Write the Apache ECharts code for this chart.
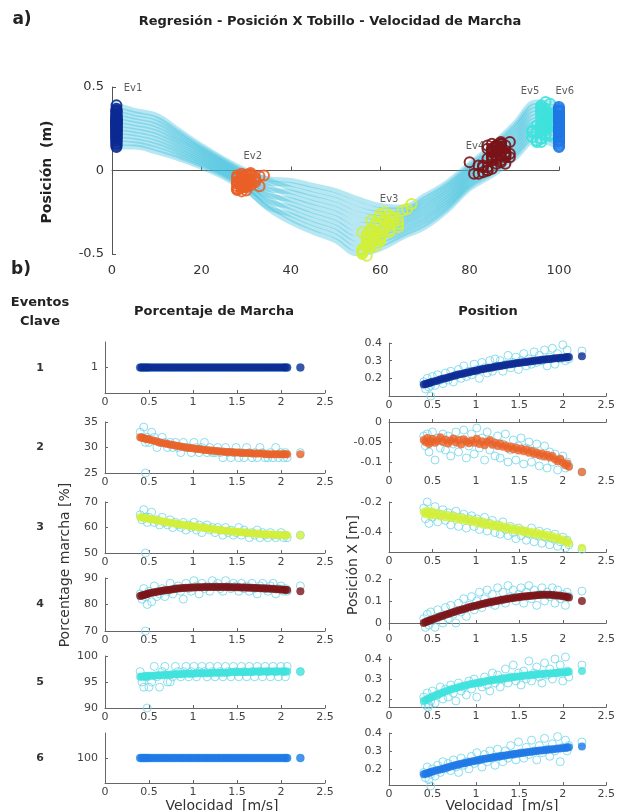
<!DOCTYPE html>
<html><head><meta charset="utf-8">
<script src="https://cdn.jsdelivr.net/npm/echarts@6/dist/echarts.min.js"></script>
<style>html,body{margin:0;padding:0;background:#fff}#c{width:618px;height:811px}</style>
</head><body><div id="c"></div>
<script>
// ---------- DATA ----------
const cyclePct = [0,5,10,15,20,25,30,35,40,45,50,55,60,65,70,75,80,85,90,95,100];
const cycleCurves = [
 [.40,.36,.33,.24,.15,.07,.00,-.058,-.105,-.141,-.175,-.23,-.257,-.253,-.185,-.101,.013,.117,.242,.368,.353],
 [.376,.34,.31,.225,.138,.06,-.011,-.049,-.06,-.09,-.12,-.17,-.21,-.22,-.15,-.07,.04,.15,.28,.41,.40],
 [.353,.32,.29,.209,.126,.05,-.022,-.095,-.151,-.192,-.229,-.29,-.305,-.286,-.219,-.132,-.015,.084,.204,.326,.305],
 [.329,.30,.27,.194,.115,.04,-.033,-.076,-.083,-.115,-.147,-.20,-.234,-.236,-.167,-.085,.026,.134,.261,.389,.376],
 [.305,.28,.25,.178,.103,.03,-.044,-.131,-.196,-.243,-.284,-.35,-.352,-.318,-.254,-.163,-.042,.052,.166,.285,.258],
 [.282,.26,.23,.163,.091,.02,-.055,-.113,-.128,-.166,-.202,-.26,-.281,-.269,-.202,-.116,-.001,.101,.223,.347,.329],
 [.258,.24,.21,.147,.079,.01,-.065,-.167,-.242,-.294,-.338,-.41,-.399,-.351,-.288,-.194,-.069,.019,.127,.243,.211],
 [.235,.22,.19,.132,.067,.00,-.076,-.149,-.174,-.217,-.256,-.32,-.328,-.302,-.236,-.147,-.028,.068,.184,.305,.282],
 [.211,.20,.17,.116,.055,-.01,-.087,-.204,-.287,-.345,-.393,-.47,-.446,-.384,-.323,-.225,-.096,-.014,.089,.201,.164],
 [.187,.18,.15,.101,.044,-.02,-.098,-.185,-.219,-.268,-.311,-.38,-.375,-.334,-.271,-.178,-.055,.036,.146,.264,.235],
 [.164,.16,.13,.085,.032,-.03,-.109,-.231,-.31,-.37,-.42,-.50,-.47,-.40,-.34,-.24,-.11,-.03,.07,.18,.14],
 [.14,.14,.11,.07,.02,-.04,-.12,-.222,-.265,-.319,-.365,-.44,-.423,-.367,-.305,-.209,-.083,.003,.108,.222,.187]
];
const eventNames = ['Ev1','Ev2','Ev3','Ev4','Ev5','Ev6'];
const rowLabels = ['1','2','3','4','5','6'];
const speed = [0.40,0.42,0.44,0.46,0.48,0.50,0.53,0.56,0.59,0.62,0.65,0.68,0.71,0.74,0.77,0.80,0.83,0.86,0.89,0.92,
 0.95,0.98,1.01,1.04,1.07,1.10,1.13,1.16,1.19,1.22,1.25,1.28,1.31,1.34,1.37,1.40,1.43,1.46,1.49,1.52,
 1.55,1.58,1.61,1.64,1.67,1.70,1.73,1.76,1.79,1.82,1.85,1.88,1.91,1.94,1.97,2.00,2.03,2.05,2.07,2.22];

// gait percentage of each key event (fit / observed)
const pct1Fit = [1,1,1,1,1,1,1,1,1,1,1,1,1,1,1,1,1,1,1,1,1,1,1,1,1,1,1,1,1,1,1,1,1,1,1,1,1,1,1,1,1,1,1,1,1,1,1,1,1,1,1,1,1,1,1,1,1,1,1,1];
const pct1Obs = [1,1,1,1,1,1,1,1,1,1,1,1,1,1,1,1,1,1,1,1,1,1,1,1,1,1,1,1,1,1,1,1,1,1,1,1,1,1,1,1,1,1,1,1,1,1,1,1,1,1,1,1,1,1,1,1,1,1,1,1];
const pct2Fit = [32.0,31.9,31.8,31.7,31.6,31.6,31.4,31.3,31.2,31.0,30.9,30.8,30.7,30.6,30.5,30.4,30.3,30.2,30.1,30.0,
 29.9,29.9,29.8,29.7,29.7,29.6,29.5,29.5,29.4,29.4,29.3,29.3,29.2,29.2,29.1,29.1,29.1,29.0,29.0,29.0,
 28.9,28.9,28.9,28.9,28.8,28.8,28.8,28.8,28.8,28.7,28.7,28.7,28.7,28.7,28.7,28.7,28.7,28.7,28.7,28.7];
const pct2Obs = [33,32,34,31,32,31,33,32,30,31,32,31,30,31,30,31,30,29,31,30,30,29,31,30,29,30,31,29,30,29,
 29,30,29,28,30,29,28,29,30,28,29,28,30,29,28,29,28,30,29,28,28,29,28,30,28,29,28,29,28,29];
const pct3Fit = [64.0,63.9,63.8,63.6,63.5,63.4,63.2,63.0,62.8,62.6,62.4,62.3,62.1,61.9,61.7,61.6,61.4,61.2,61.0,60.9,
 60.7,60.6,60.4,60.3,60.1,60.0,59.8,59.7,59.5,59.4,59.2,59.1,59.0,58.8,58.7,58.6,58.5,58.4,58.3,58.2,
 58.1,58.0,57.9,57.8,57.7,57.6,57.6,57.5,57.4,57.4,57.3,57.3,57.2,57.2,57.1,57.1,57.0,57.0,57.0,57.0];
const pct3Obs = [65,63,67,64,62,64,66,62,63,61,64,62,61,63,60,62,61,60,62,59,61,60,62,59,61,58,60,61,59,60,
 58,60,59,57,60,58,59,57,58,60,57,59,58,56,58,57,59,56,58,57,56,58,57,56,57,58,56,57,56,57];
const pct4Fit = [83.2,83.4,83.6,83.8,84.0,84.2,84.4,84.6,84.8,85.0,85.2,85.4,85.5,85.6,85.8,85.9,86.0,86.1,86.2,86.3,
 86.3,86.4,86.4,86.5,86.5,86.5,86.6,86.6,86.6,86.6,86.6,86.6,86.6,86.6,86.6,86.6,86.5,86.5,86.5,86.5,
 86.4,86.4,86.4,86.3,86.3,86.2,86.2,86.1,86.1,86.0,86.0,85.9,85.9,85.8,85.8,85.7,85.6,85.6,85.5,85.0];
const pct4Obs = [84,82,86,83,80,85,81,87,83,84,86,83,85,88,84,86,87,85,82,88,86,85,89,87,84,88,86,87,85,89,
 87,88,86,85,89,87,86,88,87,85,88,86,87,85,88,86,84,87,88,86,85,87,88,84,86,87,85,86,85,87];
const pct5Fit = [96.0,96.0,96.1,96.1,96.1,96.2,96.2,96.2,96.3,96.3,96.3,96.4,96.4,96.4,96.5,96.5,96.5,96.5,96.6,96.6,
 96.6,96.6,96.6,96.7,96.7,96.7,96.7,96.7,96.7,96.8,96.8,96.8,96.8,96.8,96.8,96.8,96.9,96.9,96.9,96.9,
 96.9,96.9,96.9,96.9,96.9,97.0,97.0,97.0,97.0,97.0,97.0,97.0,97.0,97.0,97.0,97.0,97.0,97.0,97.0,97.0];
const pct5Obs = [97,95,94,96,96,94,95,98,96,94,97,98,95,95,96,98,97,96,97,98,96,97,98,96,97,98,97,96,98,97,
 96,98,97,96,98,97,96,98,97,96,98,97,96,98,97,96,98,97,96,98,97,96,98,97,96,98,97,96,98,97];
const pct6Fit = [100,100,100,100,100,100,100,100,100,100,100,100,100,100,100,100,100,100,100,100,100,100,100,100,100,100,100,100,100,100,
 100,100,100,100,100,100,100,100,100,100,100,100,100,100,100,100,100,100,100,100,100,100,100,100,100,100,100,100,100,100];
const pct6Obs = [100,100,100,100,100,100,100,100,100,100,100,100,100,100,100,100,100,100,100,100,100,100,100,100,100,100,100,100,100,100,
 100,100,100,100,100,100,100,100,100,100,100,100,100,100,100,100,100,100,100,100,100,100,100,100,100,100,100,100,100,100];

// ankle X position at each key event (fit / observed)
const pos1Fit = [.165,.168,.171,.174,.177,.180,.184,.188,.193,.197,.201,.205,.209,.213,.217,.221,.224,.228,.231,.235,
 .238,.241,.245,.248,.251,.254,.257,.260,.262,.265,.268,.270,.273,.275,.278,.280,.283,.285,.287,.289,
 .291,.293,.295,.297,.299,.301,.303,.305,.306,.308,.310,.311,.313,.314,.316,.317,.319,.320,.321,.325];
const pos1Obs = [.18,.14,.20,.15,.16,.21,.16,.22,.19,.17,.23,.19,.24,.18,.22,.25,.20,.27,.21,.24,
 .22,.28,.25,.20,.29,.26,.23,.30,.24,.31,.27,.30,.24,.28,.33,.26,.29,.32,.25,.30,
 .34,.27,.31,.28,.35,.29,.33,.30,.36,.27,.32,.37,.28,.34,.31,.39,.30,.36,.31,.355];
const pos2Fit = [-.045,-.050,-.040,-.055,-.048,-.042,-.052,-.046,-.038,-.050,-.044,-.054,-.047,-.041,-.051,-.045,-.056,-.043,-.049,-.053,
 -.046,-.052,-.042,-.055,-.048,-.058,-.050,-.045,-.057,-.052,-.060,-.054,-.062,-.058,-.066,-.061,-.068,-.064,-.071,-.066,
 -.073,-.069,-.077,-.072,-.080,-.076,-.083,-.079,-.086,-.082,-.089,-.085,-.093,-.098,-.092,-.102,-.108,-.104,-.112,-.125];
const pos2Obs = [-.035,-.060,-.030,-.075,-.050,-.025,-.095,-.040,-.065,-.030,-.070,-.035,-.085,-.055,-.025,-.075,-.045,-.020,-.090,-.060,
 -.030,-.080,-.015,-.065,-.040,-.095,-.025,-.070,-.050,-.085,-.035,-.090,-.055,-.030,-.100,-.070,-.045,-.095,-.060,-.040,
 -.105,-.065,-.050,-.100,-.075,-.055,-.110,-.085,-.060,-.115,-.075,-.100,-.080,-.120,-.095,-.085,-.115,-.100,-.110,-.125];
const pos3Fit = [-.265,-.280,-.258,-.275,-.290,-.262,-.285,-.272,-.295,-.280,-.300,-.285,-.305,-.292,-.310,-.298,-.318,-.305,-.322,-.312,
 -.330,-.318,-.338,-.325,-.345,-.333,-.352,-.340,-.358,-.347,-.365,-.352,-.372,-.360,-.380,-.368,-.385,-.375,-.392,-.380,
 -.398,-.388,-.405,-.395,-.412,-.400,-.418,-.408,-.425,-.415,-.432,-.422,-.440,-.430,-.450,-.445,-.462,-.455,-.470,-.500];
const pos3Obs = [-.24,-.31,-.20,-.34,-.27,-.30,-.23,-.33,-.28,-.25,-.32,-.27,-.35,-.29,-.26,-.36,-.30,-.28,-.37,-.31,
 -.29,-.36,-.31,-.38,-.33,-.30,-.39,-.34,-.32,-.40,-.35,-.41,-.33,-.38,-.42,-.36,-.40,-.44,-.37,-.42,
 -.39,-.45,-.41,-.37,-.46,-.42,-.39,-.47,-.43,-.40,-.48,-.44,-.41,-.49,-.46,-.43,-.50,-.45,-.48,-.51];
const pos4Fit = [.000,.004,.007,.010,.013,.016,.020,.025,.029,.033,.037,.041,.045,.049,.053,.057,.060,.064,.067,.071,
 .074,.077,.080,.083,.086,.089,.092,.094,.097,.099,.101,.104,.106,.108,.110,.112,.114,.116,.117,.119,
 .120,.122,.123,.124,.125,.126,.127,.128,.128,.128,.128,.127,.126,.125,.124,.122,.120,.118,.116,.100];
const pos4Obs = [.02,-.02,.04,-.01,.05,.01,-.02,.06,.03,.00,.07,.02,.08,.04,.00,.09,.05,.11,.03,.08,
 .12,.06,.10,.14,.07,.11,.15,.09,.13,.08,.16,.10,.14,.09,.17,.12,.15,.10,.13,.16,
 .09,.14,.17,.11,.15,.08,.13,.16,.10,.14,.12,.16,.09,.15,.11,.13,.08,.14,.12,.145];
const pos5Fit = [.190,.195,.199,.203,.207,.211,.217,.222,.228,.233,.238,.243,.247,.251,.255,.259,.263,.266,.269,.272,
 .275,.278,.280,.283,.285,.288,.290,.292,.294,.296,.298,.300,.302,.304,.306,.308,.309,.311,.313,.314,
 .316,.317,.319,.320,.321,.323,.324,.325,.326,.327,.328,.329,.330,.331,.332,.333,.334,.335,.336,.340];
const pos5Obs = [.21,.17,.23,.17,.19,.24,.18,.22,.26,.20,.25,.21,.27,.23,.19,.28,.24,.26,.22,.29,
 .25,.30,.21,.28,.26,.31,.27,.24,.33,.28,.32,.26,.30,.35,.28,.31,.37,.29,.33,.27,
 .34,.30,.39,.29,.33,.36,.31,.28,.38,.32,.35,.30,.40,.33,.37,.29,.41,.34,.31,.37];
const pos6Fit = [.170,.173,.176,.179,.182,.185,.189,.193,.197,.201,.205,.209,.213,.217,.221,.224,.228,.231,.234,.238,
 .241,.244,.247,.250,.253,.256,.258,.261,.263,.266,.268,.271,.273,.275,.277,.280,.282,.284,.286,.288,
 .290,.292,.294,.296,.298,.300,.302,.303,.305,.307,.308,.310,.311,.313,.314,.316,.317,.319,.320,.325];
const pos6Obs = [.18,.15,.21,.14,.17,.20,.16,.22,.18,.24,.20,.23,.19,.25,.21,.18,.26,.22,.24,.20,
 .27,.23,.29,.25,.21,.28,.24,.30,.26,.22,.31,.27,.24,.30,.26,.33,.28,.25,.35,.29,
 .26,.32,.28,.36,.30,.25,.33,.29,.37,.31,.27,.34,.30,.38,.24,.32,.36,.30,.33,.35];
// isolated observations at the lower edge of some panels [speed, value]
const outlierPct = [null,[0.46,25],[0.46,50],[0.46,70],[0.48,90],null];
const outlierPos = [[0.48,0.10],null,null,null,[0.45,0.16],[0.48,0.105]];

// y-axis ranges and tick labels
const pctRange = [[0,2],[25,35],[50,70],[70,90],[90,100],[99,101]];
const pctTicks = [[1],[25,30,35],[50,60,70],[70,80,90],[90,95,100],[100]];
const posRange = [[0.1,0.4],[-0.125,0],[-0.527,-0.2],[-0.032,0.2],[0.16,0.41],[0.11,0.4]];
const posTicks = [[0.2,0.3,0.4],[-0.1,-0.05,0],[-0.4,-0.2],[0,0.1,0.2],[0.2,0.3,0.4],[0.2,0.3,0.4]];
const speedTicks = [0,0.5,1,1.5,2,2.5];

// ---------- STYLE ----------
const evColors = ['#0c2a92','#ea6128','#d2ef3a','#7a1418','#3fe2dc','#1f78e6'];
const obsColor = '#6dd6ea';
const curveColor = '#34bcdc';
const FONT = 'DejaVu Sans';

const pctFit = [pct1Fit,pct2Fit,pct3Fit,pct4Fit,pct5Fit,pct6Fit];
const pctObs = [pct1Obs,pct2Obs,pct3Obs,pct4Obs,pct5Obs,pct6Obs];
const posFit = [pos1Fit,pos2Fit,pos3Fit,pos4Fit,pos5Fit,pos6Fit];
const posObs = [pos1Obs,pos2Obs,pos3Obs,pos4Obs,pos5Obs,pos6Obs];

const leftTops = [342,422,502,578,656,733];
const leftH = [51,51,51,53,52,50];
const rightTops = [343,422,502,579,657,733];
const rightH = [53,50,50,51,50,52];

const grids = [{left:112, width:447, top:87, height:167}];
const xAxes = [{gridIndex:0, type:'value', min:0, max:100, interval:20,
  axisLine:{lineStyle:{color:'#555'}}, axisTick:{inside:true,length:4,lineStyle:{color:'#555'}},
  axisLabel:{color:'#333', fontSize:13, fontFamily:FONT, margin:10}, splitLine:{show:false}}];
const yAxes = [{gridIndex:0, type:'value', min:-0.5, max:0.5, interval:0.5,
  axisLine:{show:true,lineStyle:{color:'#555'}}, axisTick:{show:true,inside:true,length:4,lineStyle:{color:'#555'}},
  axisLabel:{color:'#333', fontSize:13, fontFamily:FONT, margin:8}, splitLine:{show:false}}];

function fmt(v){ return String(Math.round(v*1000)/1000); }
function smallAxes(gi, left, top, h, yr, yt){
  grids.push({left:left, width:(left<300?220:221), top:top, height:h});
  xAxes.push({gridIndex:gi, type:'value', min:0, max:2.5,
    axisLine:{lineStyle:{color:'#666'}},
    axisTick:{inside:true,length:3,customValues:speedTicks,lineStyle:{color:'#666'}},
    axisLabel:{color:'#444', fontSize:11, fontFamily:FONT, margin:4, customValues:speedTicks, formatter:fmt},
    splitLine:{show:false}});
  yAxes.push({gridIndex:gi, type:'value', min:yr[0], max:yr[1],
    axisLine:{show:true,lineStyle:{color:'#666'}},
    axisTick:{show:true,inside:true,length:3,customValues:yt,lineStyle:{color:'#666'}},
    axisLabel:{color:'#444', fontSize:11, fontFamily:FONT, margin:7, customValues:yt, formatter:fmt},
    splitLine:{show:false}});
}
for(let i=0;i<6;i++) smallAxes(1+i, 105, leftTops[i], leftH[i], pctRange[i], pctTicks[i]);
for(let i=0;i<6;i++) smallAxes(7+i, 389, rightTops[i], rightH[i], posRange[i], posTicks[i]);

const series = [];
// gait cycle curves
cycleCurves.forEach(c => series.push({type:'line', xAxisIndex:0, yAxisIndex:0, smooth:0.4, showSymbol:false,
  data: cyclePct.map((x,j)=>[x,c[j]]), lineStyle:{color:curveColor, width:5, opacity:0.36}, silent:true, z:1}));
// key events on the cycle
for(let k=0;k<6;k++){
  series.push({type:'scatter', xAxisIndex:0, yAxisIndex:0, clip:false, symbol:'circle', symbolSize:10,
    data: pctObs[k].map((p,j)=>[p,posObs[k][j]]),
    itemStyle:{color:'rgba(0,0,0,0)', borderColor:evColors[k], borderWidth:2, opacity:0.9}, z:3});
}
const evLabelPos = [[4.7,0.49],[31.5,0.084],[62,-0.175],[81.2,0.145],[93.5,0.476],[101.3,0.476]];
series.push({type:'scatter', xAxisIndex:0, yAxisIndex:0, clip:false, symbolSize:0,
  data: eventNames.map((n,k)=>[evLabelPos[k][0], evLabelPos[k][1], n]),
  label:{show:true, position:'inside', formatter:p=>p.data[2], color:'#333', fontSize:10, fontFamily:FONT}, z:5});

function panelSeries(ai, fit, obs, outlier, color){
  const od = obs.map((v,j)=>[speed[j],v]);
  if(outlier) od.push(outlier);
  series.push({type:'scatter', xAxisIndex:ai, yAxisIndex:ai, clip:false, symbol:'circle', symbolSize:8, data:od,
    itemStyle:{color:'rgba(0,0,0,0)', borderColor:obsColor, borderWidth:1}, z:2});
  series.push({type:'scatter', xAxisIndex:ai, yAxisIndex:ai, clip:false, symbol:'circle', symbolSize:8,
    data: fit.map((v,j)=>[speed[j],v]), itemStyle:{color:color}, z:3});
}
for(let i=0;i<6;i++){
  panelSeries(1+i, pctFit[i], pctObs[i], outlierPct[i], evColors[i]);
  panelSeries(7+i, posFit[i], posObs[i], outlierPos[i], evColors[i]);
}

function txt(x,y,t,size,weight,rot,color){
  return {type:'text', x:x, y:y, rotation:rot||0, z:10,
    style:{text:t, fill:color||'#222', font:(weight||'normal')+' '+size+'px "'+FONT+'"', textAlign:'center', textVerticalAlign:'middle'}};
}
const graphics = [
  txt(22,20,'a)',17,'bold'),
  txt(330,22,'Regresión - Posición X Tobillo - Velocidad de Marcha',13,'bold'),
  txt(47,172,'Posición  (m)',14,'bold',Math.PI/2),
  txt(21,270,'b)',17,'bold'),
  txt(40,303,'Eventos',13,'bold'),
  txt(40,322,'Clave',13,'bold'),
  txt(214,312,'Porcentaje de Marcha',13,'bold'),
  txt(488,312,'Position',13,'bold'),
  txt(65,565,'Porcentage marcha [%]',14,'normal',Math.PI/2,'#333'),
  txt(353,565,'Posición X [m]',14,'normal',Math.PI/2,'#333'),
  txt(222,806,'Velocidad  [m/s]',14,'normal',0,'#333'),
  txt(502,806,'Velocidad  [m/s]',14,'normal',0,'#333')
];
const rowY = [368,447,527,604,682,758];
rowLabels.forEach((r,i)=>graphics.push(txt(40,rowY[i],r,11,'bold',0,'#333')));

const chart = echarts.init(document.getElementById('c'), null, {renderer:'canvas'});
chart.setOption({animation:false, backgroundColor:'#fff', grid:grids, xAxis:xAxes, yAxis:yAxes, series:series, graphic:graphics});
</script></body></html>
